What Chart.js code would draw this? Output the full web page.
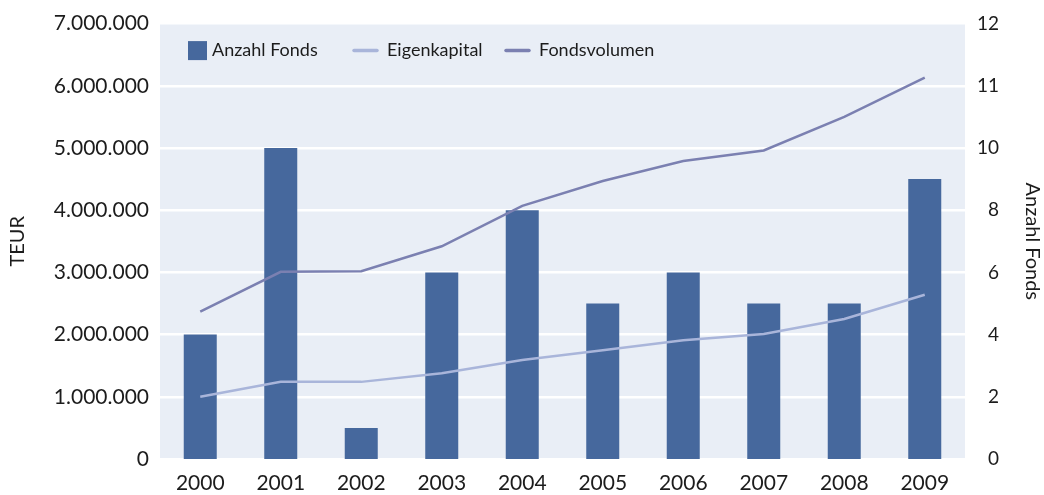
<!DOCTYPE html>
<html>
<head>
<meta charset="utf-8">
<script src="https://cdn.jsdelivr.net/npm/chart.js@4.4.1/dist/chart.umd.min.js"></script>
<style>
  html, body { margin: 0; padding: 0; background: #fff; }
  #wrap { width: 1044px; height: 495px; }
</style>
</head>
<body>
<div id="wrap"><canvas id="chart" width="1044" height="495"></canvas></div>
<script>
const years = ["2000", "2001", "2002", "2003", "2004", "2005", "2006", "2007", "2008", "2009"];
// Anzahl Fonds (right axis)
const anzahlFonds = [4, 10, 1, 6, 8, 5, 6, 5, 5, 9];
// TEUR (left axis)
const eigenkapital = [1000000, 1240000, 1240000, 1380000, 1590000, 1750000, 1910000, 2010000, 2250000, 2640000];
const fondsvolumen = [2370000, 3010000, 3020000, 3420000, 4070000, 4470000, 4790000, 4960000, 5500000, 6130000];
// the right axis in the original is labelled this way (top two steps read 11, 12)
const rightTickLabels = ["0", "2", "4", "6", "8", "10", "11", "12"];

const TEXT = "#1c1c1c";
const FONT = "Lato, 'Noto Sans', sans-serif";

function formatTeur(value) {
  return String(value).replace(/\B(?=(\d{3})+(?!\d))/g, ".");
}

// fills the plot area with the pale blue background
const plotBackground = {
  id: "plotBackground",
  beforeDraw(chart) {
    const { ctx, chartArea: a } = chart;
    ctx.save();
    ctx.fillStyle = "#e9eef6";
    ctx.fillRect(a.left, a.top, a.right - a.left, a.bottom - a.top);
    ctx.restore();
  },
};

// legend drawn inside the plot area, top left
const innerLegend = {
  id: "innerLegend",
  afterDatasetsDraw(chart) {
    const { ctx, chartArea: a } = chart;
    const offsets = [28, 193, 345];
    const cy = a.top + 27;
    ctx.save();
    ctx.font = `18px ${FONT}`;
    ctx.textBaseline = "middle";
    ctx.fillStyle = TEXT;
    chart.data.datasets.forEach((ds, i) => {
      const x = a.left + offsets[i];
      if (ds.type === "bar") {
        ctx.fillStyle = ds.backgroundColor;
        ctx.fillRect(x, cy - 9.5, 19, 19);
        ctx.fillStyle = TEXT;
        ctx.fillText(ds.label, x + 24, cy);
      } else {
        ctx.strokeStyle = ds.borderColor;
        ctx.lineWidth = 3.5;
        ctx.lineCap = "round";
        ctx.beginPath();
        ctx.moveTo(x + 1, cy);
        ctx.lineTo(x + 24, cy);
        ctx.stroke();
        ctx.fillText(ds.label, x + 34, cy);
      }
    });
    ctx.restore();
  },
};

new Chart(document.getElementById("chart"), {
  data: {
    labels: years,
    datasets: [
      {
        type: "bar",
        label: "Anzahl Fonds",
        data: anzahlFonds,
        yAxisID: "y1",
        backgroundColor: "#46689d",
        barPercentage: 0.41,
        categoryPercentage: 1,
        order: 2,
      },
      {
        type: "line",
        label: "Eigenkapital",
        data: eigenkapital,
        yAxisID: "y",
        borderColor: "#a9b5da",
        borderWidth: 2.5,
        pointRadius: 0,
        tension: 0,
        order: 1,
      },
      {
        type: "line",
        label: "Fondsvolumen",
        data: fondsvolumen,
        yAxisID: "y",
        borderColor: "#7b80b1",
        borderWidth: 2.5,
        pointRadius: 0,
        tension: 0,
        order: 0,
      },
    ],
  },
  options: {
    responsive: false,
    animation: false,
    layout: { padding: { top: 19, left: 0, right: 0, bottom: 0 } },
    plugins: { legend: { display: false }, tooltip: { enabled: false } },
    scales: {
      x: {
        offset: true,
        grid: { display: false, drawTicks: false },
        border: { display: false },
        ticks: { color: TEXT, font: { family: FONT, size: 21 }, padding: 12, maxRotation: 0 },
        afterFit(scale) { scale.height = 36; },
      },
      y: {
        position: "left",
        min: 0,
        max: 7000000,
        grid: { color: "#ffffff", lineWidth: 2.5, drawTicks: false },
        border: { display: false },
        ticks: {
          stepSize: 1000000,
          color: TEXT,
          font: { family: FONT, size: 21 },
          padding: 11,
          callback: (value) => formatTeur(value),
        },
        title: {
          display: true,
          text: "TEUR",
          color: TEXT,
          font: { family: FONT, size: 20 },
          padding: { top: 6, bottom: 0 },
        },
        afterFit(scale) { scale.width = 160; },
      },
      y1: {
        position: "right",
        min: 0,
        max: 14,
        grid: { display: false, drawTicks: false },
        border: { display: false },
        ticks: {
          stepSize: 2,
          color: TEXT,
          font: { family: FONT, size: 19 },
          padding: 0,
          crossAlign: "far",
          callback: (value, index) => rightTickLabels[index],
        },
        afterFit(scale) { scale.width = 34; },
      },
      // carries only the right-hand title, outside the tick labels
      y2: {
        position: "right",
        min: 0,
        max: 14,
        grid: { display: false, drawTicks: false },
        border: { display: false },
        ticks: { display: false },
        title: {
          display: true,
          text: "Anzahl Fonds",
          color: TEXT,
          font: { family: FONT, size: 20 },
          padding: { top: 0, bottom: 0 },
        },
        afterFit(scale) { scale.width = 45; },
      },
    },
  },
  plugins: [plotBackground, innerLegend],
});
</script>
</body>
</html>
